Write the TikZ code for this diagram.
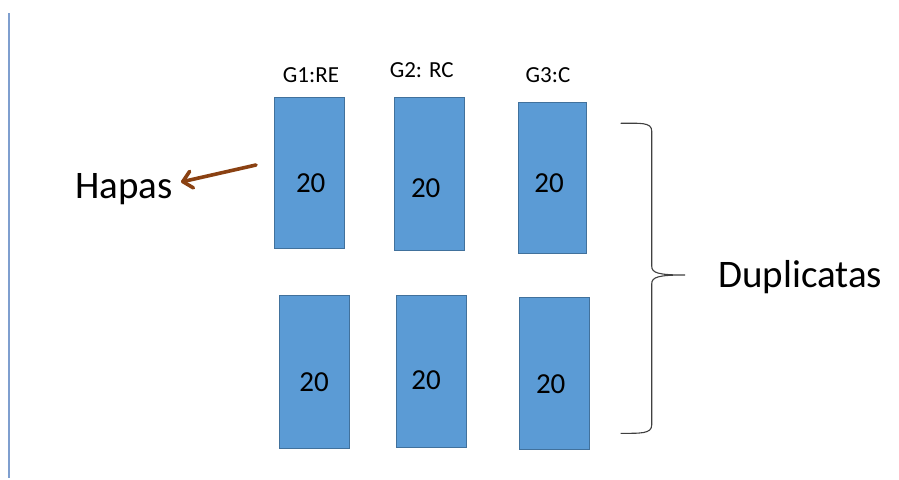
\documentclass[tikz,border=0pt]{standalone}
\usepackage{fontspec}
\setmainfont{Carlito}
\usetikzlibrary{arrows.meta}
\definecolor{boxfill}{HTML}{5B9BD5}
\definecolor{boxline}{HTML}{41719C}
\definecolor{arrbrown}{HTML}{8A4112}
\definecolor{vline}{HTML}{7F9FCF}
\tikzset{
  plot/.style={draw=boxline, line width=0.8pt, fill=boxfill, minimum width=70pt, minimum height=151pt, inner sep=0pt, anchor=north west},
  num/.style={font=\fontsize{29}{31}\selectfont, text=black, inner sep=0pt},
  grp/.style={font=\fontsize{23}{25}\selectfont, text=black, inner sep=0pt},
  big/.style={font=\fontsize{39}{42}\selectfont, text=black, inner sep=0pt},
}
\begin{document}
\begin{tikzpicture}[x=1pt,y=-1pt]
\useasboundingbox (0,0) rectangle (899,479);
\fill[white] (0,0) rectangle (899,479);
% left rule
\coordinate (lt) at (8.7,13);
\coordinate (lb) at (8.7,478);
\draw[vline, line width=1.6pt] (lt) -- (lb);
% top row
\node[plot, minimum height=151pt] (b1) at (274.3,96.7) {};
\node[plot, minimum height=153pt] (b2) at (394.3,96.7) {};
\node[plot, minimum width=68pt, minimum height=151pt] (b3) at (517.7,101.7) {};
% bottom row
\node[plot, minimum height=153pt] (b4) at (279,295) {};
\node[plot, minimum height=152pt] (b5) at (396,295) {};
\node[plot, minimum height=152pt] (b6) at (519.3,296.7) {};
% numbers
\node[num] (n1) at (310.7,183) {20};
\node[num] (n2) at (425.7,188) {20};
\node[num] (n3) at (549,183) {20};
\node[num] (n4) at (314,382.3) {20};
\node[num] (n5) at (426,380) {20};
\node[num] (n6) at (550.7,384) {20};
% group labels
\node[grp] (g1) at (311,75) {G1:RE};
\node[grp] (g2) at (421.7,70) {G2: RC};
\node[grp] (g3) at (548,75) {G3:C};
% Hapas
\node[big, anchor=base] (hapas) at (124,198.3) {Hapas};
\coordinate (as) at (256,165);
\coordinate (ae) at (181,182);
\draw[arrbrown, line width=3.6pt, line cap=round, -{Straight Barb[length=9pt,width=17pt,line width=3.6pt,round]}] (as) -- (ae);
% brace
\coordinate (bt) at (620.7,123.3);
\coordinate (bb) at (620.7,433.3);
\coordinate (btip) at (685,275);
\draw[black!75, line width=1.1pt]
  (bt) .. controls (640,123.3) and (651.7,122) .. (651.7,131)
  -- (651.7,266) .. controls (651.7,273) and (658,275) .. (btip)
  (btip) .. controls (658,275) and (651.7,277) .. (651.7,284)
  -- (651.7,425) .. controls (651.7,434) and (640,433.3) .. (bb);
\node[big, anchor=base west] (dup) at (718,287) {Duplicatas};
\end{tikzpicture}
\end{document}
